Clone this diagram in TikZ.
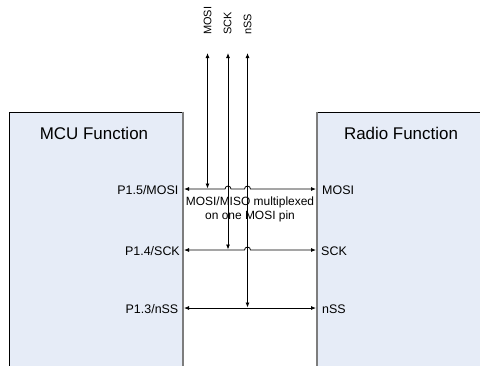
\documentclass[tikz,border=0pt]{standalone}
\usepackage{fontspec}
\setmainfont{Liberation Sans}
\usetikzlibrary{arrows.meta,calc}
\definecolor{boxfill}{RGB}{230,236,247}
\definecolor{edgegray}{RGB}{125,125,125}
\begin{document}
\begin{tikzpicture}[x=1bp,y=-1bp,
  title/.style={inner sep=0pt,font=\fontsize{17}{20}\selectfont},
  lbl/.style={inner sep=0pt,font=\fontsize{12}{14}\selectfont},
  pin/.style={inner sep=0pt,font=\fontsize{12.5}{14}\selectfont},
  toplbl/.style={inner sep=0pt,rotate=90,anchor=west,font=\fontsize{11}{13}\selectfont},
  wire/.style={line width=0.8bp,{Latex[length=5bp,width=4bp]}-{Latex[length=5bp,width=4bp]}},
  frame/.style={line width=0.8bp,black},
  inner/.style={line width=2bp,edgegray}]
\useasboundingbox (0,0) rectangle (480,365);
\clip (0,0) rectangle (480,365);
% boxes
\fill[boxfill] (9.5,112) rectangle (183,372);
\draw[frame] (9.5,372) -- (9.5,112) -- (183,112);
\draw[inner] (183,111.6) -- (183,372);
\fill[boxfill] (317,112) rectangle (486,372);
\draw[frame] (317,112) -- (486,112);
\draw[inner] (317,111.6) -- (317,372);
\node[title] (mcu) at (94,133.5) {MCU Function};
\node[title] (radio) at (401,133) {Radio Function};
% pin coordinates
\coordinate (L1) at (184,189);
\coordinate (R1) at (316,189);
\coordinate (L2) at (184,250);
\coordinate (R2) at (316,250);
\coordinate (L3) at (184,308);
\coordinate (R3) at (316,308);
\coordinate (T1) at (207.5,53);
\coordinate (T2) at (228,53);
\coordinate (T3) at (247.5,53);
% labels
\node[pin,anchor=east] (p15) at (178.5,190) {P1.5/MOSI};
\node[pin,anchor=east] (p14) at (180,251) {P1.4/SCK};
\node[pin,anchor=east] (p13) at (178.5,309) {P1.3/nSS};
\node[pin,anchor=west] (rmosi) at (322,190) {MOSI};
\node[pin,anchor=west] (rsck) at (321,251) {SCK};
\node[pin,anchor=west] (rnss) at (322,309) {nSS};
\node[toplbl] (tmosi) at (207.5,35) {MOSI};
\node[toplbl] (tsck) at (227.5,35) {SCK};
\node[toplbl] (tnss) at (247.5,35) {nSS};
\node[lbl,align=center] (mux) at (250,209.5) {MOSI/MISO multiplexed\\on one MOSI pin};
% horizontal wires with hops
\draw[wire] (L1) -- ($(T2|-L1)+(-3,0)$) arc[start angle=180,end angle=360,radius=3]
  -- ($(T3|-L1)+(-3,0)$) arc[start angle=180,end angle=360,radius=3] -- (R1);
\draw[wire] (L2) -- ($(T3|-L2)+(-3,0)$) arc[start angle=180,end angle=360,radius=3] -- (R2);
\draw[wire] (L3) -- (R3);
% vertical wires
\draw[wire] (T1) -- ($(T1|-L1)+(0,-0.5)$);
\draw[wire] (T2) -- ($(T2|-L2)+(0,-0.5)$);
\draw[wire] (T3) -- ($(T3|-L3)+(0,-0.5)$);
\end{tikzpicture}
\end{document}
